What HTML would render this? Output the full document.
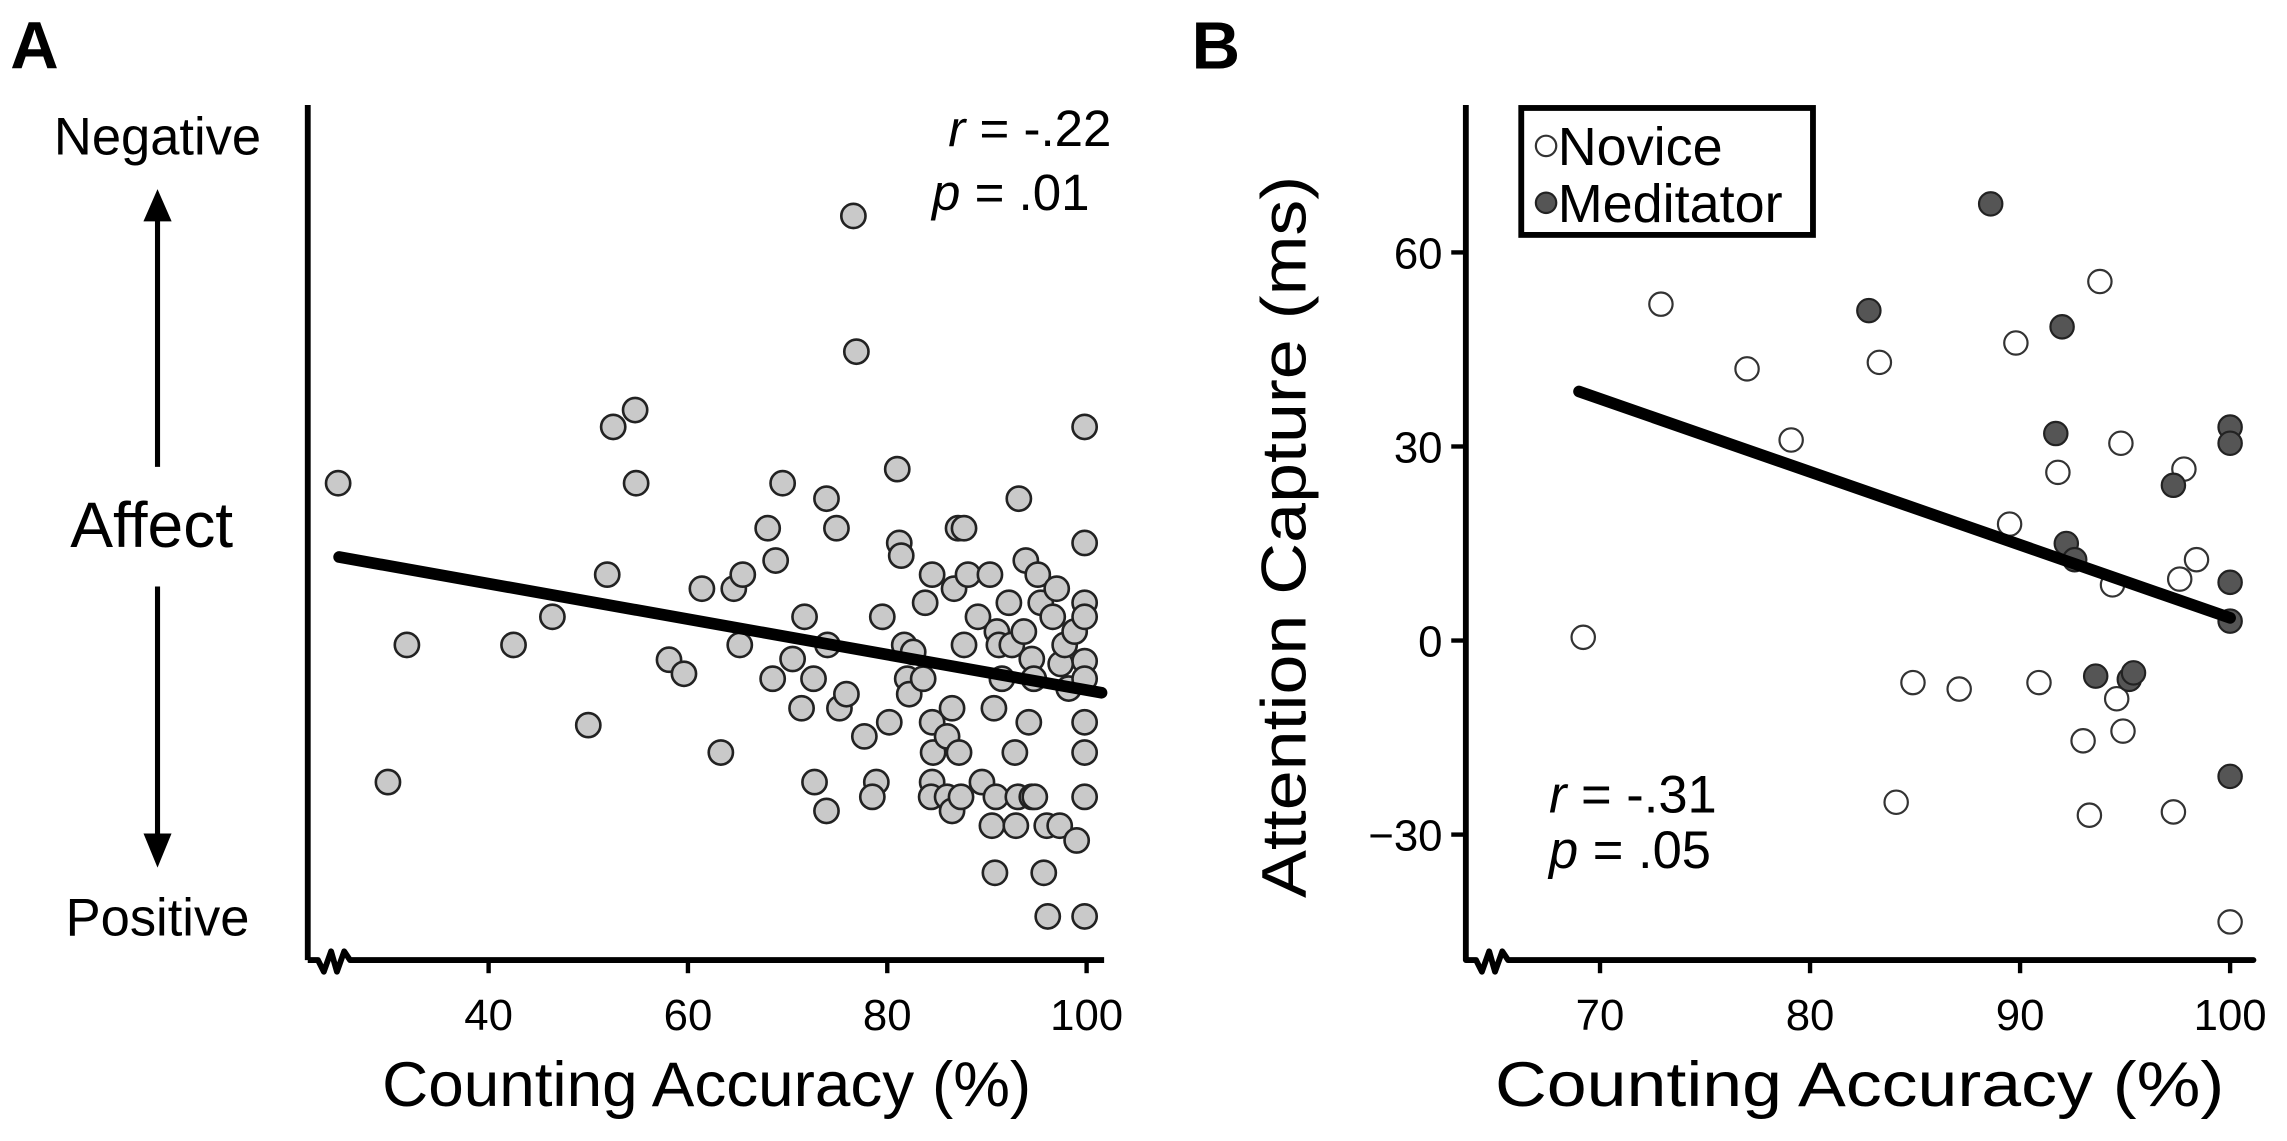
<!DOCTYPE html>
<html><head><meta charset="utf-8"><style>
html,body{margin:0;padding:0;background:#fff}
svg{display:block}
text{font-family:"Liberation Sans",Arial,sans-serif;fill:#000}
</style></head><body>
<svg id="fig" width="2287" height="1141" viewBox="0 0 1568 782" preserveAspectRatio="none" xmlns="http://www.w3.org/2000/svg">
<g id="panelA"></g>
<g id="panelB"></g>
</svg>
<script>
// Panel A data
const aAccuracy = [24.9,29.9,31.8,42.5,46.4,50,51.9,52.5,54.7,54.8,58.1,59.6,61.4,63.3,64.6,65.5,65.2,68,68.8,68.5,69.5,70.5,71.4,71.7,72.6,72.7,73.9,73.9,74,75.2,74.9,75.9,76.6,76.9,77.7,78.9,78.5,79.5,80.2,81,81.2,81.4,81.7,82,82.2,82.6,84.5,84.5,84.4,84.5,83.6,83.8,84.6,86,86,86.5,86.5,86.7,87.1,87.7,87.2,87.4,87.7,88.1,89.1,89.5,90.3,90.5,90.7,90.8,90.9,91,91.2,91.5,92.2,92.5,92.8,92.9,93.1,93.2,93.7,93.9,94.2,94.5,94.5,94.7,95.1,95.4,94.8,95.7,96,96.1,96.6,97,97.3,97.4,97.8,98.2,99,98.8,99.8,99.8,99.8,99.8,99.8,99.8,99.8,99.8,99.8,99.8];
const aAffect = [62,19.5,39,39,43,27.6,49,70,72.4,62,36.9,34.9,47,23.7,47,49,39,55.6,51,34.2,62,37,30,43,34.2,19.5,59.8,15.4,39,30,55.6,32,100,80.7,26,19.5,17.4,43,28,64,53.5,51.7,39,34.2,32,38,19.5,28,17.4,49,34.2,45,23.7,17.4,26,30,15.4,47,55.6,55.6,23.7,17.4,39,49,43,19.5,49,13.3,30,6.6,17.4,40.9,39,34.2,45,39,23.7,13.3,17.4,59.8,40.9,51,28,17.4,37,34.2,49,45,17.4,6.6,13.3,0.4,43,47,13.3,36.3,39,32.8,11.2,40.9,70,53.5,45,43,36.7,34.2,28,23.7,17.4,0.4];
const aFitX = [25,101.5];
const aFitY = [51.5,32.2];
const aTicks = [40,60,80,100];
// Panel B data
const novAcc = [69.2,72.9,77,79.1,83.3,89.8,89.5,91.8,93.8,94.8,94.4,97.8,97.6,98.4,84.9,87.1,90.9,94.6,94.9,93,84.1,93.3,97.3,100];
const novCap = [0.5,52,42,31,43,46,18,26,55.5,30.5,8.6,26.5,9.5,12.5,-6.5,-7.5,-6.5,-9,-14,-15.5,-25,-27,-26.5,-43.5];
const medAcc = [82.8,88.6,92,91.7,92.2,92.6,97.3,100,100,100,100,93.6,95.2,95.4,100];
const medCap = [51,67.5,48.5,32,15,12.5,24,33,30.5,9,3,-5.5,-6,-5,-21];
const bFitX = [69,100];
const bFitY = [38.5,3.5];
const bXTicks = [70,80,90,100];
const bYTicks = [60,30,0,-30];

const NS='http://www.w3.org/2000/svg';
function mk(parent,tag,attrs,txt){const e=document.createElementNS(NS,tag);for(const k in attrs)e.setAttribute(k,attrs[k]);if(txt!==undefined)e.textContent=txt;parent.appendChild(e);return e;}

const axA = v => 335 + (v-40)*(745-335)/60;
const ayA = v => 630 - v*4.82;
const axB = v => 1097 + (v-70)*14.4;
const ayB = v => 439 - v*(439-306)/30;

const A=document.getElementById('panelA');
const B=document.getElementById('panelB');

// ---- Panel A ----
let t=mk(A,'text',{x:7,y:47,'font-size':46,'font-weight':'bold'},'A');


let yA=mk(A,'line',{x1:211,y1:72,x2:211,y2:658,stroke:'#000','stroke-width':4});


let xA=mk(A,'path',{d:'M211,658 L218,658 L222,666 L227,652 L231,666 L236,652 L240,658 L757,658',fill:'none',stroke:'#000','stroke-width':4,'stroke-linejoin':'round'});


aTicks.forEach(v=>{
  const l=mk(A,'line',{x1:axA(v),y1:658,x2:axA(v),y2:667,stroke:'#000','stroke-width':3});
  
  
  const tx=mk(A,'text',{x:axA(v),y:706,'font-size':30,'text-anchor':'middle'},String(v));
  
  
});
t=mk(A,'text',{x:262,y:758,'font-size':43,textLength:445,lengthAdjust:'spacingAndGlyphs'},'Counting Accuracy (%)');


t=mk(A,'text',{x:108,y:106,'font-size':36,'text-anchor':'middle'},'Negative');


t=mk(A,'text',{x:108,y:641,'font-size':36,'text-anchor':'middle'},'Positive');


t=mk(A,'text',{x:104,y:375,'font-size':44,'text-anchor':'middle'},'Affect');


let ar=mk(A,'path',{d:'M108,320 L108,145 M101,150 L108,134 L115,150 Z M108,402 L108,578 M101,573 L108,590 L115,573 Z',stroke:'#000','stroke-width':3.5,fill:'#000'});


t=mk(A,'text',{x:762,y:100,'font-size':35,'text-anchor':'end'});
t.innerHTML='<tspan font-style="italic">r</tspan> = -.22';


t=mk(A,'text',{x:639,y:144,'font-size':35});
t.innerHTML='<tspan font-style="italic">p</tspan> = .01';


aAccuracy.forEach((v,i)=>{
  const c=mk(A,'circle',{cx:axA(v),cy:ayA(aAffect[i]),r:8.3,fill:'#c9c9c9',stroke:'#222','stroke-width':1.8});
  
  
});
let fa=mk(A,'line',{x1:axA(aFitX[0]),y1:ayA(aFitY[0]),x2:axA(aFitX[1]),y2:ayA(aFitY[1]),stroke:'#000','stroke-width':8,'stroke-linecap':'round'});



// ---- Panel B ----
t=mk(B,'text',{x:817,y:47,'font-size':46,'font-weight':'bold'},'B');


let yB=mk(B,'line',{x1:1005,y1:72,x2:1005,y2:658,stroke:'#000','stroke-width':4});


let xB=mk(B,'path',{d:'M1005,658 L1012,658 L1016,666 L1021,652 L1025,666 L1030,652 L1034,658 L1545,658',fill:'none',stroke:'#000','stroke-width':4,'stroke-linejoin':'round','stroke-linecap':'round'});


bXTicks.forEach(v=>{
  const l=mk(B,'line',{x1:axB(v),y1:658,x2:axB(v),y2:667,stroke:'#000','stroke-width':3});
  
  
  const tx=mk(B,'text',{x:axB(v),y:706,'font-size':30,'text-anchor':'middle'},String(v));
  
  
});
bYTicks.forEach(v=>{
  const l=mk(B,'line',{x1:995,y1:ayB(v),x2:1005,y2:ayB(v),stroke:'#000','stroke-width':3});
  
  
  const tx=mk(B,'text',{x:989,y:ayB(v)+11,'font-size':30,'text-anchor':'end'},v<0?'\u2212'+Math.abs(v):String(v));
  
  
});
t=mk(B,'text',{x:1025,y:758,'font-size':43,textLength:500,lengthAdjust:'spacingAndGlyphs'},'Counting Accuracy (%)');


t=mk(B,'text',{x:0,y:0,'font-size':43,'text-anchor':'middle',textLength:495,lengthAdjust:'spacingAndGlyphs',transform:'translate(895,368) rotate(-90)'},'Attention Capture (ms)');


let lg=mk(B,'rect',{x:1043,y:74,width:200,height:87,fill:'#fff',stroke:'#000','stroke-width':4});


let lc=mk(B,'circle',{cx:1060,cy:100,r:7,fill:'#fff',stroke:'#333','stroke-width':1.5});


t=mk(B,'text',{x:1068,y:113,'font-size':37},'Novice');


lc=mk(B,'circle',{cx:1060,cy:139,r:7,fill:'#555',stroke:'#222','stroke-width':1.5});


t=mk(B,'text',{x:1068,y:152,'font-size':37},'Meditator');


t=mk(B,'text',{x:1062,y:557,'font-size':36});
t.innerHTML='<tspan font-style="italic">r</tspan>  = -.31';


t=mk(B,'text',{x:1062,y:595,'font-size':36});
t.innerHTML='<tspan font-style="italic">p</tspan> = .05';


novAcc.forEach((v,i)=>{
  const c=mk(B,'circle',{cx:axB(v),cy:ayB(novCap[i]),r:8,fill:'#fff',stroke:'#333','stroke-width':1.5});
  
  
});
medAcc.forEach((v,i)=>{
  const c=mk(B,'circle',{cx:axB(v),cy:ayB(medCap[i]),r:8,fill:'#555',stroke:'#222','stroke-width':1.5});
  
  
});
let fb=mk(B,'line',{x1:axB(bFitX[0]),y1:ayB(bFitY[0]),x2:axB(bFitX[1]),y2:ayB(bFitY[1]),stroke:'#000','stroke-width':8,'stroke-linecap':'round'});


</script>
</body></html>
